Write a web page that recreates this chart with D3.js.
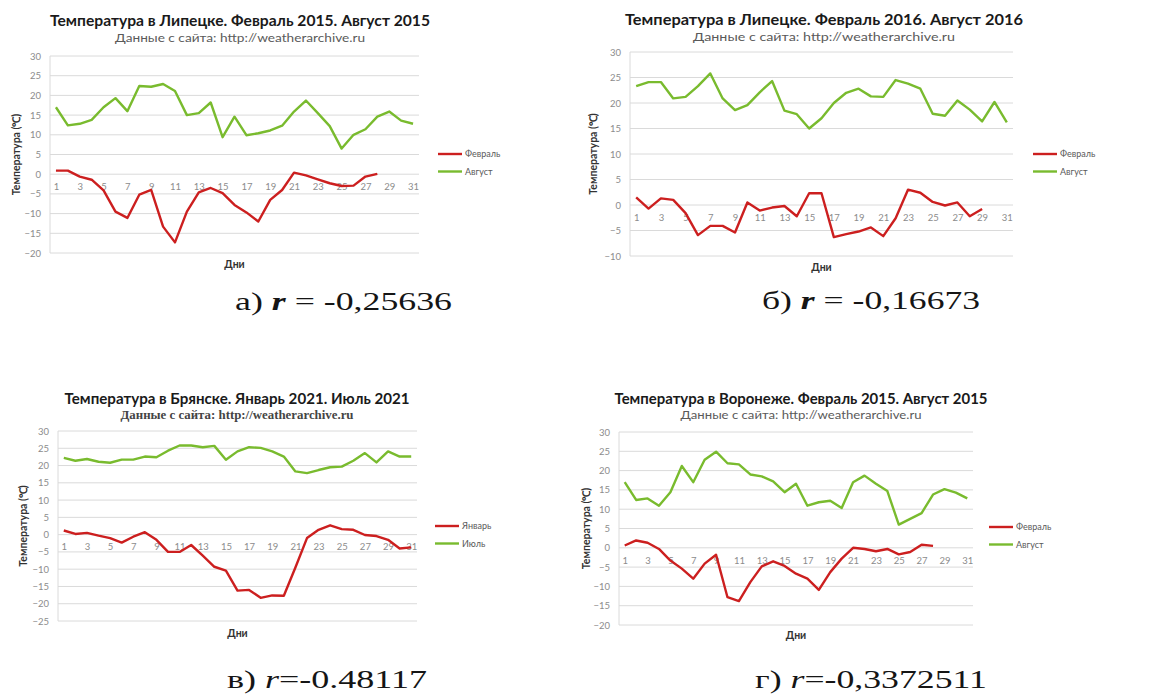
<!DOCTYPE html>
<html>
<head>
<meta charset="utf-8">
<script src="https://cdn.jsdelivr.net/npm/d3@7"></script>
<style>
  html, body { margin: 0; padding: 0; background: #fff; }
  svg { display: block; }
</style>
</head>
<body>
<svg id="chart" width="1155" height="695"></svg>
<script>
// Daily mean temperatures, °C (weatherarchive.ru)
const days = d3.range(1, 32);
const dayTickLabels = [1, 3, 5, 7, 9, 11, 13, 15, 17, 19, 21, 23, 25, 27, 29, 31];

const lipetskFeb2015 = [0.9, 0.9, -0.6, -1.4, -4.1, -9.5, -11.1, -5.2, -4.0, -13.3, -17.3, -9.5, -4.6, -3.5,
  -4.8, -7.8, -9.7, -12.0, -6.5, -4.0, 0.4, -0.3, -1.3, -2.3, -3.0, -2.9, -0.6, 0.1];
const lipetskAug2015 = [17.0, 12.4, 12.8, 13.8, 17.0, 19.3, 16.0, 22.4, 22.2, 22.9, 21.1, 15.0, 15.5, 18.2,
  9.4, 14.6, 9.9, 10.4, 11.1, 12.3, 15.9, 18.7, 15.5, 12.2, 6.5, 10.0, 11.4, 14.6, 15.9, 13.6, 12.8];

const lipetskFeb2016 = [1.5, -0.7, 1.3, 1.0, -1.6, -5.9, -4.1, -4.1, -5.4, 0.5, -1.1, -0.5, -0.2, -2.2,
  2.3, 2.3, -6.3, -5.7, -5.2, -4.4, -6.1, -2.6, 3.0, 2.4, 0.6, -0.1, 0.5, -2.2, -0.8];
const lipetskAug2016 = [23.3, 24.1, 24.1, 20.9, 21.2, 23.3, 25.8, 20.9, 18.6, 19.6, 22.1, 24.3, 18.5, 17.8,
  15.0, 17.0, 20.0, 22.0, 22.8, 21.3, 21.2, 24.5, 23.8, 22.8, 17.9, 17.5, 20.5, 18.7, 16.4, 20.2, 16.2];

const bryanskJan2021 = [1.2, 0.2, 0.5, -0.3, -1.0, -2.3, -0.6, 0.7, -1.5, -5.0, -5.0, -3.0, -6.1, -9.3,
  -10.4, -16.2, -16.0, -18.3, -17.6, -17.7, -9.5, -1.0, 1.4, 2.7, 1.6, 1.4, -0.1, -0.4, -1.5, -4.0, -3.7];
const bryanskJul2021 = [22.2, 21.4, 21.9, 21.1, 20.8, 21.7, 21.7, 22.6, 22.4, 24.3, 25.8, 25.8, 25.3, 25.7,
  21.7, 24.1, 25.3, 25.1, 24.1, 22.6, 18.3, 17.8, 18.7, 19.5, 19.7, 21.4, 23.6, 20.9, 24.1, 22.6, 22.6];

const voronezhFeb2015 = [0.6, 1.9, 1.3, -0.3, -3.3, -5.4, -8.0, -4.1, -1.8, -12.8, -13.8, -8.9, -4.8, -3.5,
  -4.7, -6.7, -8.0, -10.9, -6.3, -2.8, 0.0, -0.3, -0.9, -0.3, -1.7, -1.1, 0.8, 0.5];
const voronezhAug2015 = [17.0, 12.4, 12.8, 10.9, 14.4, 21.2, 17.0, 22.8, 24.9, 21.9, 21.6, 19.0, 18.5, 17.2,
  14.4, 16.6, 10.9, 11.8, 12.2, 10.3, 17.0, 18.7, 16.6, 14.7, 6.0, 7.5, 9.0, 13.8, 15.2, 14.3, 12.8];

const chartTitles = [
  "Температура в Липецке. Февраль 2015. Август 2015",
  "Температура в Липецке. Февраль 2016. Август 2016",
  "Температура в Брянске. Январь 2021. Июль 2021",
  "Температура в Воронеже. Февраль 2015. Август 2015"
];
const sourceNote = "Данные с сайта: http://weatherarchive.ru";
const winterLabels = ["Февраль", "Февраль", "Январь", "Февраль"];
const summerLabels = ["Август", "Август", "Июль", "Август"];
const yDomains = [[-20, 30], [-10, 30], [-25, 30], [-20, 30]];
const winterSeries = [lipetskFeb2015, lipetskFeb2016, bryanskJan2021, voronezhFeb2015];
const summerSeries = [lipetskAug2015, lipetskAug2016, bryanskJul2021, voronezhAug2015];
const captionLetters = ["а)", "б)", "в)", "г)"];
const captionValues = ["-0,25636", "-0,16673", "-0.48117", "-0,3372511"];

// Panel layout (pixel frames for each chart)
const layout = [
  { x0: 50, x1: 419, yTop: 56, yBot: 253, titleX: 240, titleY: 26, titleW: 380, subY: 42, subW: 250,
    axisX: 16, xLabelY: 268, legX: 438, legY: 154, capX: 235, capY: 310, capW: 217,
    subSerif: false, boldR: true, spaced: true },
  { x0: 630, x1: 1013, yTop: 52, yBot: 256, titleX: 824, titleY: 25, titleW: 398, subY: 41, subW: 262,
    axisX: 593, xLabelY: 271, legX: 1033, legY: 154, capX: 762, capY: 309, capW: 218,
    subSerif: false, boldR: true, spaced: true },
  { x0: 58, x1: 417, yTop: 431, yBot: 621, titleX: 237, titleY: 404, titleW: 345, subY: 419, subW: 233,
    axisX: 23, xLabelY: 637, legX: 435, legY: 526, capX: 227, capY: 688, capW: 200,
    subSerif: true, boldR: false, spaced: false },
  { x0: 619, x1: 973, yTop: 432, yBot: 625, titleX: 801, titleY: 404, titleW: 373, subY: 419, subW: 241,
    axisX: 586, xLabelY: 639, legX: 989, legY: 527, capX: 755, capY: 688, capW: 232,
    subSerif: false, boldR: false, spaced: false }
];

const winterColor = "#cc1f1f";
const summerColor = "#79bb2e";
const gridColor = "#dadada";
const sans = "Lato, 'Open Sans', 'Liberation Sans', sans-serif";
const serif = "'Liberation Serif', 'DejaVu Serif', serif";

const svg = d3.select("#chart");

layout.forEach((p, i) => {
  const g = svg.append("g");
  const x = d3.scalePoint().domain(days).range([p.x0, p.x1]).padding(0.5);
  const y = d3.scaleLinear().domain(yDomains[i]).range([p.yBot, p.yTop]);
  const yTicks = d3.range(yDomains[i][0], yDomains[i][1] + 1, 5);

  // horizontal gridlines
  g.append("g").selectAll("line").data(yTicks).join("line")
    .attr("x1", p.x0).attr("x2", p.x1)
    .attr("y1", d => y(d)).attr("y2", d => y(d))
    .attr("stroke", gridColor).attr("stroke-width", 1);
  // value axis line
  g.append("line").attr("x1", p.x0).attr("x2", p.x0).attr("y1", p.yTop).attr("y2", p.yBot)
    .attr("stroke", gridColor);

  // value axis labels
  const yAxis = d3.axisLeft(y).tickValues(yTicks).tickSize(0).tickPadding(9);
  const ya = g.append("g").attr("transform", `translate(${p.x0},0)`).call(yAxis);
  ya.select(".domain").remove();
  ya.selectAll("text").attr("fill", "#8c8c8c").attr("font-family", sans).attr("font-size", 9.5);

  // day labels on the zero line
  const xAxis = d3.axisBottom(x).tickValues(dayTickLabels).tickSize(0).tickPadding(9);
  const xa = g.append("g").attr("transform", `translate(0,${y(0)})`).call(xAxis);
  xa.select(".domain").remove();
  xa.selectAll("text").attr("fill", "#8c8c8c").attr("font-family", sans).attr("font-size", 9.5);

  // series lines
  const line = d3.line().x((d, k) => x(k + 1)).y(d => y(d));
  g.append("path").datum(summerSeries[i]).attr("d", line)
    .attr("fill", "none").attr("stroke", summerColor).attr("stroke-width", 2.4)
    .attr("stroke-linejoin", "round");
  g.append("path").datum(winterSeries[i]).attr("d", line)
    .attr("fill", "none").attr("stroke", winterColor).attr("stroke-width", 2.4)
    .attr("stroke-linejoin", "round");

  // title & source
  g.append("text").attr("x", p.titleX).attr("y", p.titleY).attr("text-anchor", "middle")
    .attr("font-family", sans).attr("font-weight", "bold").attr("font-size", 14.5)
    .attr("textLength", p.titleW).attr("lengthAdjust", "spacingAndGlyphs")
    .attr("fill", "#1a1a1a").text(chartTitles[i]);
  g.append("text").attr("x", p.titleX).attr("y", p.subY).attr("text-anchor", "middle")
    .attr("font-family", p.subSerif ? serif : sans).attr("font-size", p.subSerif ? 12 : 11.5)
    .attr("font-weight", p.subSerif ? "bold" : "normal")
    .attr("textLength", p.subW).attr("lengthAdjust", "spacingAndGlyphs")
    .attr("fill", p.subSerif ? "#444" : "#5a5a5a").text(sourceNote);

  // axis titles
  g.append("text").attr("x", (p.x0 + p.x1) / 2).attr("y", p.xLabelY).attr("text-anchor", "middle")
    .attr("font-family", sans).attr("font-weight", "bold").attr("font-size", 10.5)
    .attr("fill", "#333").text("Дни");
  g.append("text").attr("transform", `translate(${p.axisX + 4},${(p.yTop + p.yBot) / 2}) rotate(-90)`)
    .attr("text-anchor", "middle").attr("font-family", sans).attr("font-weight", "bold")
    .attr("font-size", 10.5).attr("fill", "#333").text("Температура (℃)");

  // legend
  [[winterLabels[i], winterColor], [summerLabels[i], summerColor]].forEach(([lab, col], k) => {
    const ly = p.legY + k * 17.5;
    g.append("line").attr("x1", p.legX).attr("x2", p.legX + 24).attr("y1", ly).attr("y2", ly)
      .attr("stroke", col).attr("stroke-width", 2.4);
    g.append("text").attr("x", p.legX + 27).attr("y", ly + 3).attr("font-family", sans)
      .attr("font-size", 9).attr("fill", "#595959").text(lab);
  });

  // caption with correlation coefficient
  const cap = svg.append("text").attr("x", p.capX).attr("y", p.capY)
    .attr("font-family", serif).attr("font-size", 26).attr("fill", "#151515")
    .attr("textLength", p.capW).attr("lengthAdjust", "spacingAndGlyphs");
  cap.append("tspan").text(captionLetters[i] + " ");
  cap.append("tspan").attr("font-style", "italic").attr("font-weight", p.boldR ? "bold" : "normal").text("r");
  cap.append("tspan").text(p.spaced ? " = " + captionValues[i] : "=" + captionValues[i]);
});
</script>
</body>
</html>
